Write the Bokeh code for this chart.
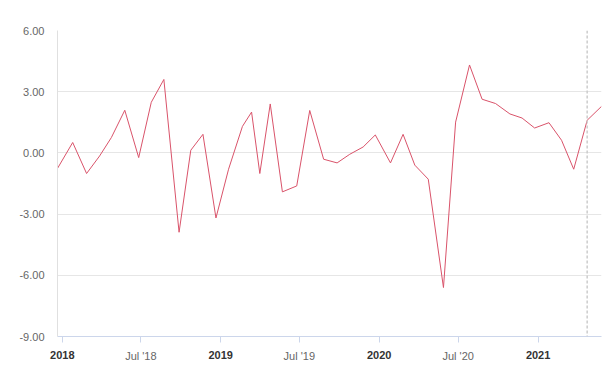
import pandas as pd
from bokeh.plotting import figure
from bokeh.models import Range1d, DatetimeAxis, FixedTicker, Span, ColumnDataSource
from bokeh.embed import file_html
from bokeh.resources import INLINE

dates = ["2017-12-21", "2018-01-25", "2018-02-26", "2018-03-28", "2018-04-24", "2018-05-25",
         "2018-06-26", "2018-07-25", "2018-08-23", "2018-09-27", "2018-10-24", "2018-11-21",
         "2018-12-21", "2019-01-19", "2019-02-20", "2019-03-13", "2019-04-01", "2019-04-25",
         "2019-05-23", "2019-06-25", "2019-07-25", "2019-08-26", "2019-09-26", "2019-10-25",
         "2019-11-25", "2019-12-23", "2020-01-27", "2020-02-25", "2020-03-23", "2020-04-23",
         "2020-05-28", "2020-06-25", "2020-07-27", "2020-08-25", "2020-09-25", "2020-10-28",
         "2020-11-25", "2020-12-24", "2021-01-26", "2021-02-24", "2021-03-24", "2021-04-24",
         "2021-05-27"]
values = [-0.76, 0.51, -1.01, -0.15, 0.75, 2.09,
          -0.23, 2.48, 3.60, -3.89, 0.13, 0.91,
          -3.19, -0.80, 1.30, 2.00, -1.01, 2.40,
          -1.91, -1.62, 2.08, -0.31, -0.49, -0.07,
          0.29, 0.88, -0.49, 0.91, -0.60, -1.29,
          -6.60, 1.51, 4.31, 2.63, 2.42, 1.91,
          1.71, 1.22, 1.48, 0.62, -0.80, 1.60,
          2.28]
marker_date = "2021-04-24"

tick_dates = ["2018-01-01", "2018-07-01", "2019-01-01", "2019-07-01",
              "2020-01-01", "2020-07-01", "2021-01-01"]
tick_labels = ["2018", "Jul '18", "2019", "Jul '19", "2020", "Jul '20", "2021"]
year_flags = [True, False, True, False, True, False, True]

y_ticks = [-9, -6, -3, 0, 3, 6]
y_tick_labels = ["-9.00", "-6.00", "-3.00", "0.00", "3.00", "6.00"]

x = pd.to_datetime(dates)
src = ColumnDataSource(dict(x=x, y=values))

p = figure(width=603, height=371, x_axis_type="datetime", output_backend="svg",
           toolbar_location=None,
           x_range=Range1d(x[0], x[-1]), y_range=Range1d(-9, 6),
           min_border_left=57, min_border_right=2, min_border_top=30, min_border_bottom=35)
p.outline_line_color = None
p.background_fill_color = "white"

p.line("x", "y", source=src, line_color="#d9536a", line_width=1)

span = Span(location=pd.Timestamp(marker_date), dimension="height",
            line_color="#cccccc", line_dash="3 2", line_width=1.5)
p.add_layout(span)

tick_ms = [pd.Timestamp(d).value / 1e6 for d in tick_dates]

# y axis
yax = p.yaxis[0]
yax.ticker = FixedTicker(ticks=y_ticks)
yax.major_label_overrides = {t: l for t, l in zip(y_ticks, y_tick_labels)}
yax.major_tick_line_color = None
yax.minor_tick_line_color = None
yax.axis_line_color = "#e0e0e0"
yax.major_label_text_color = "#666666"
yax.major_label_text_font = "Liberation Sans"
yax.major_label_text_font_size = "11px"
yax.major_label_standoff = 7
p.ygrid.ticker = FixedTicker(ticks=y_ticks)
p.ygrid.grid_line_color = "#e6e6e6"
p.xgrid.grid_line_color = None

# x axis: ticks + normal labels
xax = p.xaxis[0]
xax.ticker = FixedTicker(ticks=tick_ms)
xax.major_label_overrides = {t: ("" if f else l) for t, l, f in zip(tick_ms, tick_labels, year_flags)}
xax.major_tick_line_color = "#ccd6eb"
xax.major_tick_in = 0
xax.major_tick_out = 6
xax.minor_tick_line_color = None
xax.axis_line_color = "#ccd6eb"
xax.axis_line_width = 1
xax.major_label_text_color = "#666666"
xax.major_label_text_font = "Liberation Sans"
xax.major_label_text_font_size = "11px"
xax.major_label_standoff = 7

# second x axis: bold year labels on the same row
xax2 = DatetimeAxis(ticker=FixedTicker(ticks=tick_ms))
xax2.major_label_overrides = {t: (l if f else "") for t, l, f in zip(tick_ms, tick_labels, year_flags)}
xax2.major_tick_line_color = None
xax2.minor_tick_line_color = None
xax2.axis_line_color = None
xax2.major_label_text_color = "#333333"
xax2.major_label_text_font = "Liberation Sans"
xax2.major_label_text_font_size = "11px"
xax2.major_label_text_font_style = "bold"
xax2.major_label_standoff = -20
p.add_layout(xax2, "below")

open("out.html", "w").write(file_html(p, INLINE))
